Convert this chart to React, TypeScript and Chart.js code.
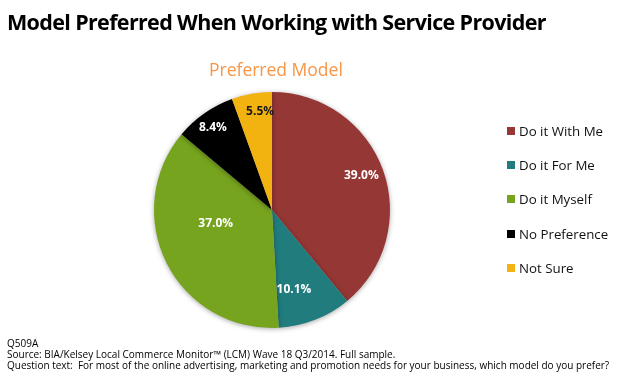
import React, { useEffect, useRef } from "react";
import { Chart, registerables } from "chart.js";
Chart.register(...registerables);

const TITLE = "Model Preferred When Working with Service Provider";
const SUBTITLE = "Preferred Model";
const categories = ["Do it With Me", "Do it For Me", "Do it Myself", "No Preference", "Not Sure"];
const values = [39.0, 10.1, 37.0, 8.4, 5.5];
const valueLabels = ["39.0%", "10.1%", "37.0%", "8.4%", "5.5%"];
const footerLines = [
  "Q509A",
  "Source: BIA/Kelsey Local Commerce Monitor\u2122 (LCM) Wave 18 Q3/2014. Full sample.",
  "Question text:  For most of the online advertising, marketing and promotion needs for your business, which model do you prefer?",
];

// styles
const colors = ["#953735", "#217C7E", "#77A41E", "#000000", "#F2B20F"];
const labelColors = ["#ffffff", "#ffffff", "#ffffff", "#ffffff", "#1a1a1a"];
const labelRadius = [0.81, 0.7, 0.49, 0.86, 0.84];
const labelAngleShift = [-1, 6, 13.5, -0.7, 3];
const FONT = "'Open Sans', 'Noto Sans', sans-serif";

const labelPlugin = {
  id: "sliceLabels",
  afterDatasetsDraw(chart: any) {
    const ctx = chart.ctx;
    const meta = chart.getDatasetMeta(0);
    ctx.save();
    ctx.font = `bold 12px ${FONT}`;
    ctx.textAlign = "center";
    ctx.textBaseline = "middle";
    meta.data.forEach((arc: any, i: number) => {
      const { x, y, startAngle, endAngle, outerRadius } = arc.getProps(
        ["x", "y", "startAngle", "endAngle", "outerRadius"],
        true
      );
      const mid = (startAngle + endAngle) / 2 + (labelAngleShift[i] * Math.PI) / 180;
      const r = outerRadius * labelRadius[i];
      ctx.fillStyle = labelColors[i];
      ctx.fillText(valueLabels[i], x + Math.cos(mid) * r, y + Math.sin(mid) * r);
    });
    ctx.restore();
  },
};

const shadowPlugin = {
  id: "pieShadow",
  beforeDatasetsDraw(chart: any) {
    const ctx = chart.ctx;
    ctx.save();
    ctx.shadowColor = "rgba(0,0,0,0.35)";
    ctx.shadowBlur = 5;
    ctx.shadowOffsetX = 0;
    ctx.shadowOffsetY = 1;
  },
  afterDatasetsDraw(chart: any) {
    chart.ctx.restore();
  },
};

export default function App() {
  const ref = useRef<HTMLCanvasElement>(null);
  useEffect(() => {
    if (!ref.current) return;
    const chart = new Chart(ref.current, {
      type: "pie",
      data: {
        labels: categories,
        datasets: [
          {
            data: values,
            backgroundColor: colors,
            borderWidth: 0,
          },
        ],
      },
      options: {
        animation: false,
        responsive: false,
        maintainAspectRatio: false,
        layout: { padding: { left: 154, right: 232, top: 92, bottom: 56 } },
        plugins: {
          legend: { display: false },
          tooltip: { enabled: false },
        },
      },
      plugins: [shadowPlugin, labelPlugin],
    });
    return () => chart.destroy();
  }, []);

  const legendRows = [131, 165, 199, 234, 268];

  return (
    <div style={{ position: "absolute", left: 0, top: 0, width: 622, height: 384, background: "#fff", overflow: "hidden", fontFamily: FONT }}>
      <canvas ref={ref} width={622} height={384} style={{ position: "absolute", left: 0, top: 0 }} />
      <div style={{ position: "absolute", left: 7, top: 11, fontSize: 21.5, lineHeight: "21.5px", fontWeight: 700, color: "#000", whiteSpace: "nowrap", letterSpacing: -0.65 }}>
        {TITLE}
      </div>
      <div style={{ position: "absolute", left: 209, top: 61.2, fontSize: 17.5, lineHeight: "17.5px", fontWeight: 400, color: "#F79646", whiteSpace: "nowrap" }}>
        {SUBTITLE}
      </div>
      {categories.map((c, i) => (
        <div key={c} style={{ position: "absolute", left: 507, top: legendRows[i] - 8, height: 16, display: "flex", alignItems: "center", whiteSpace: "nowrap" }}>
          <span style={{ display: "inline-block", width: 8, height: 8, background: colors[i], marginRight: 4 }} />
          <span style={{ fontSize: 13.3, lineHeight: "16px", fontWeight: 500, color: "#111" }}>{c}</span>
        </div>
      ))}
      {footerLines.map((t, i) => (
        <div key={i} style={{ position: "absolute", left: 7, top: 337.6 + i * 11, fontSize: 10, lineHeight: "11px", color: "#000", whiteSpace: "pre" }}>
          {t}
        </div>
      ))}
    </div>
  );
}
